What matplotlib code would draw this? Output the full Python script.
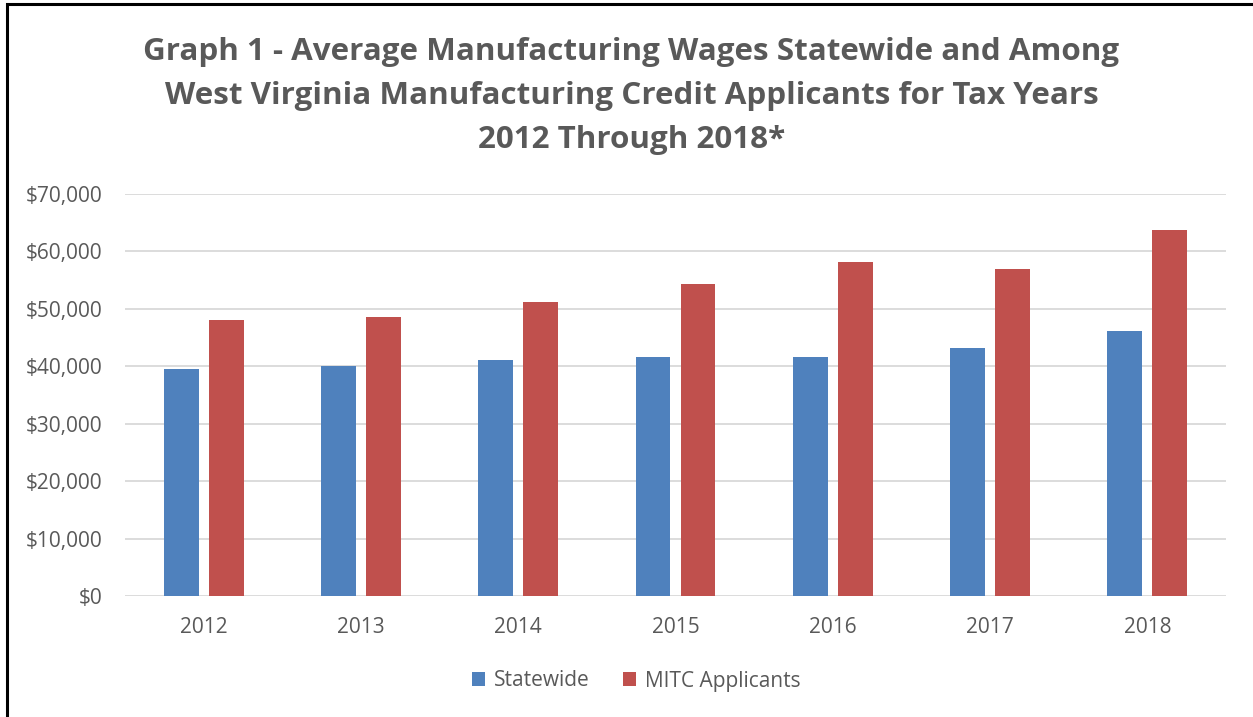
import numpy as np
import matplotlib.pyplot as plt
from matplotlib.ticker import FuncFormatter
from matplotlib.patches import Rectangle

years = ['2012', '2013', '2014', '2015', '2016', '2017', '2018']
statewide = [39600, 40100, 41100, 41600, 41600, 43200, 46100]
mitc = [48100, 48600, 51200, 54300, 58200, 56900, 63700]

grey = '#595959'
blue = '#4f81bd'
red = '#c0504d'
plt.rcParams['font.family'] = ['Open Sans', 'DejaVu Sans']

fig = plt.figure(figsize=(12.53, 7.17), dpi=100)
ax = fig.add_axes([125 / 1253, 1 - 596 / 717, (1226 - 125) / 1253, (596 - 194) / 717])

x = np.arange(len(years))
w = 0.222
ax.bar(x - 0.143, statewide, w, color=blue, label='Statewide', zorder=3)
ax.bar(x + 0.143, mitc, w, color=red, label='MITC Applicants', zorder=3)

ax.set_xlim(-0.5, len(years) - 0.5)
ax.set_ylim(0, 70000)
ax.set_yticks(np.arange(0, 70001, 10000))
ax.yaxis.set_major_formatter(FuncFormatter(lambda v, p: '${:,.0f}'.format(v)))
ax.set_xticks(x)
ax.set_xticklabels(years)
ax.grid(axis='y', color='#d9d9d9', linewidth=1.3, zorder=0)
for s in ax.spines.values():
    s.set_visible(False)
ax.tick_params(axis='both', length=0, labelsize=15, labelcolor=grey)
ax.tick_params(axis='y', pad=16.5)
ax.tick_params(axis='x', pad=15)

fig.text(0.504, 1 - 96 / 717,
         'Graph 1 - Average Manufacturing Wages Statewide and Among\n'
         'West Virginia Manufacturing Credit Applicants for Tax Years\n'
         '2012 Through 2018*',
         ha='center', va='center', fontsize=22.6, fontweight='bold', color=grey,
         linespacing=1.63)

fig.legend(loc='center', bbox_to_anchor=(636 / 1253, 1 - 681 / 717),
           ncol=2, frameon=False, fontsize=15, labelcolor=grey,
           handlelength=0.65, handleheight=0.65, columnspacing=1.6, handletextpad=0.4)

# outer chart border (left and top edges visible in crop)
fig.patches.append(Rectangle((7 / 1253, -0.1), 1.2, 1.1 - 4 / 717, transform=fig.transFigure,
                             fill=False, edgecolor='black', linewidth=2.2))

fig.savefig('out.png', dpi=100)
